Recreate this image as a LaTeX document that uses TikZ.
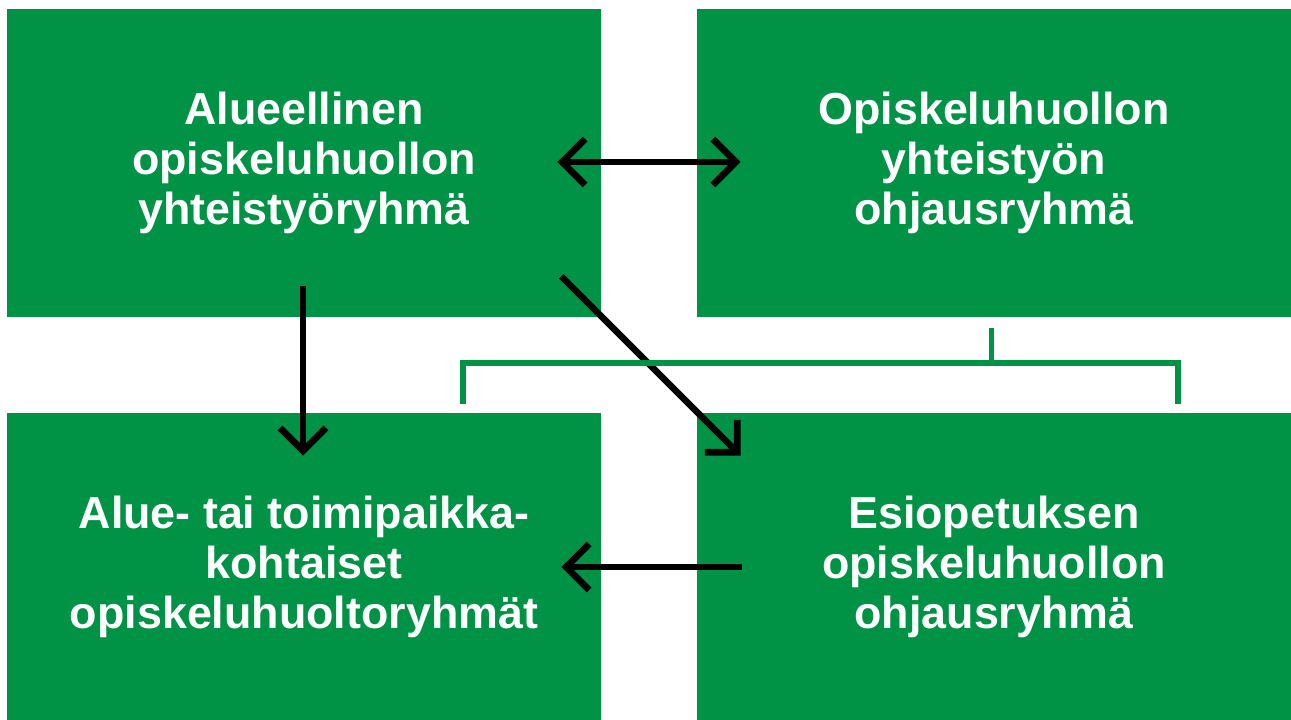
\documentclass[tikz,border=0pt]{standalone}
\usepackage{fontspec}
\setmainfont{Liberation Sans}
\usepackage{xcolor}
\usepackage{tikz}
\usetikzlibrary{calc,arrows.meta}
\definecolor{boxgreen}{HTML}{009245}
\definecolor{ink}{HTML}{000000}
\tikzset{
  >={Straight Barb[length=4.6mm,width=9.2mm]},
  box/.style={fill=boxgreen, text=white, inner sep=0pt, align=center,
    minimum width=11.88cm, minimum height=6.16cm,
    font=\bfseries\fontsize{25.5}{28.4}\selectfont},
  arr/.style={draw=ink, line width=3.8pt},
  brace/.style={draw=boxgreen, line width=3.4pt},
}
\begin{document}
\begin{tikzpicture}
  \useasboundingbox (0,0) rectangle (25.82,14.4);

  \node[box] (tl) at (6.08,11.14) {Alueellinen\\opiskeluhuollon\\yhteistyöryhmä};
  \node[box] (tr) at (19.88,11.14) {Opiskeluhuollon\\yhteistyön\\ohjausryhmä};
  \node[box] (bl) at (6.08,3.06) {Alue- tai toimipaikka-\\kohtaiset\\opiskeluhuoltoryhmät};
  \node[box] (br) at (19.88,3.06) {Esiopetuksen\\opiskeluhuollon\\ohjausryhmä};

  % arrows between the groups
  \draw[arr,<->] ([xshift=-0.88cm,yshift=0.02cm]tl.east) -- ([xshift=0.88cm,yshift=0.02cm]tr.west);
  \draw[arr,->] ([xshift=-0.02cm,yshift=0.62cm]tl.south) -- ([xshift=-0.02cm,yshift=-0.86cm]bl.north);
  \draw[arr,->] ($(tl.south east)+(-0.8,0.82)$) -- ($(br.north west)+(0.88,-0.86)$);
  \draw[arr,->] ([xshift=0.9cm]br.west) -- ([xshift=-0.8cm]bl.east);

  % bracket under the steering group
  \coordinate (stem) at (19.83,7.84);
  \coordinate (legL) at (9.26,6.32);
  \coordinate (legR) at (23.56,6.32);
  \draw[brace] (stem) -- (stem |- 0,7.14);
  \draw[brace] (legL) -- (legL |- 0,7.14) -- (legR |- 0,7.14) -- (legR);
\end{tikzpicture}
\end{document}
